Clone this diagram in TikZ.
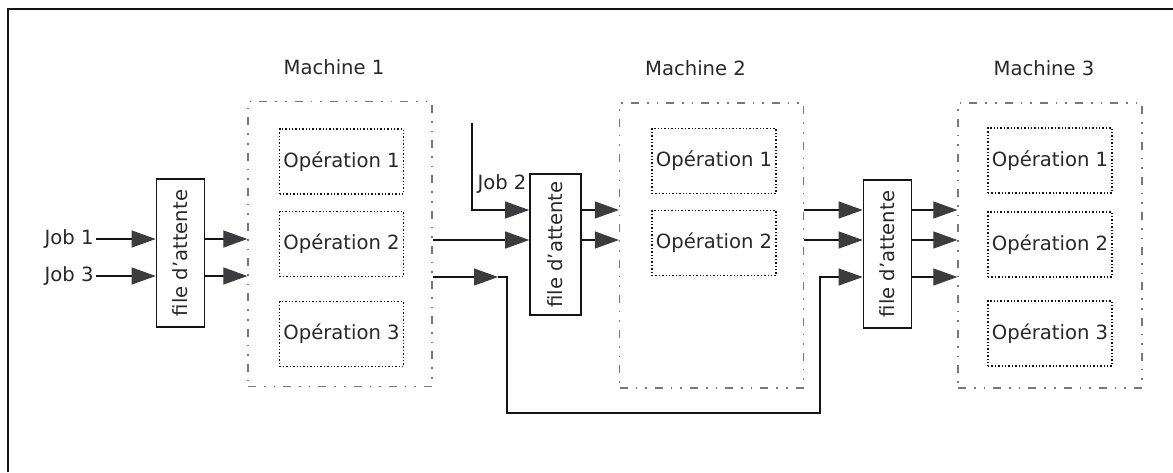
\documentclass[tikz,border=0pt]{standalone}
\usepackage{fontspec}
\setmainfont{DejaVu Sans}
\usepackage{tikz}
\usetikzlibrary{arrows.meta,positioning}
\definecolor{fsedge}{RGB}{20,20,20}
\definecolor{fsmach}{RGB}{120,120,120}
\definecolor{fshead}{RGB}{60,60,62}
\definecolor{fstext}{RGB}{40,40,40}
\tikzset{
  txt/.style={font=\fontsize{9.8}{11}\selectfont, text=fstext, inner sep=1pt},
  machine/.style={
    draw=fsmach, line width=0.6pt,
    dash pattern=on 4pt off 4pt on 0.8pt off 4pt on 0.8pt off 4pt,
    minimum width=92pt, minimum height=142.5pt
  },
  opbox/.style={
    txt, draw=fsedge, line width=0.7pt, densely dotted,
    minimum width=62pt, minimum height=32.5pt
  },
  queue/.style={
    txt, draw=fsedge, line width=0.8pt, rotate=90,
    minimum width=74pt, minimum height=24pt
  },
  wire/.style={draw=fsedge, line width=0.55pt},
  arr/.style={wire, -{Triangle[length=12pt,width=8.5pt,fill=fshead,color=fshead]}},
  frame/.style={draw=fsedge, line width=0.8pt}
}
\begin{document}
\begin{tikzpicture}[x=0.5pt,y=-0.5pt]
  \useasboundingbox (0,0) rectangle (1173,472);
  \draw[frame] (8,472) -- (8,9) -- (1173,9);

  % rows of the connectors
  \coordinate (rA) at (0,210);
  \coordinate (rB) at (0,240);
  \coordinate (rC) at (0,277);

  % machines
  \node[machine] (m1) at (340,244) {};
  \node[machine] (m2) at (711.5,245.5) {};
  \node[machine] (m3) at (1050,245.5) {};
  \node[txt, above=12pt of m1, xshift=-3pt] (m1t) {Machine 1};
  \node[txt, above=12pt of m2, xshift=-8pt] (m2t) {Machine 2};
  \node[txt, above=12pt of m3, xshift=-3pt] (m3t) {Machine 3};

  % operations
  \node[opbox] (m1o1) at (341.5,161.5) {Opération 1};
  \node[opbox] (m1o2) at (341.5,244) {Opération 2};
  \node[opbox] (m1o3) at (341.5,334) {Opération 3};
  \node[opbox] (m2o1) at (714,161) {Opération 1};
  \node[opbox] (m2o2) at (714,243) {Opération 2};
  \node[opbox] (m3o1) at (1050,160.5) {Opération 1};
  \node[opbox] (m3o2) at (1050,244.5) {Opération 2};
  \node[opbox] (m3o3) at (1050,333.5) {Opération 3};

  % queues
  \node[queue] (q1) at (180.5,253) {file d'attente};
  \node[queue, minimum width=70.5pt, minimum height=25.5pt] (q2) at (555.5,244.5) {file d'attente};
  \node[queue] (q3) at (887.5,254) {file d'attente};

  % jobs
  \node[txt, anchor=east] (j1) at (96,239) {Job 1};
  \node[txt, anchor=east] (j3) at (96,276) {Job 3};
  \node[txt] (j2) at (502,184) {Job 2};
  \coordinate (j2top) at (472,123);
  \coordinate (mid) at (498,277);
  \coordinate (lowL) at (507,413);
  \coordinate (lowR) at (820,413);

  % machine 1
  \draw[arr] (j1.east) -- (j1.east -| q1.north);
  \draw[arr] (j3.east) -- (j3.east -| q1.north);
  \draw[arr] (q1.south |- j1.east) -- (m1.west |- j1.east);
  \draw[arr] (q1.south |- j3.east) -- (m1.west |- j3.east);

  % machine 2
  \draw[arr] (j2top) |- (q2.north |- rA);
  \draw[arr] (m1.east |- rB) -- (q2.north |- rB);
  \draw[arr] (m1.east |- rC) -- (mid);
  \draw[arr] (mid) -| (lowL) -| (lowR |- rC) -- (q3.north |- rC);
  \draw[arr] (q2.south |- rA) -- (m2.west |- rA);
  \draw[arr] (q2.south |- rB) -- (m2.west |- rB);

  % machine 3
  \draw[arr] (m2.east |- rA) -- (q3.north |- rA);
  \draw[arr] (m2.east |- rB) -- (q3.north |- rB);
  \foreach \r in {rA,rB,rC}
    \draw[arr] (q3.south |- \r) -- (m3.west |- \r);
\end{tikzpicture}
\end{document}
